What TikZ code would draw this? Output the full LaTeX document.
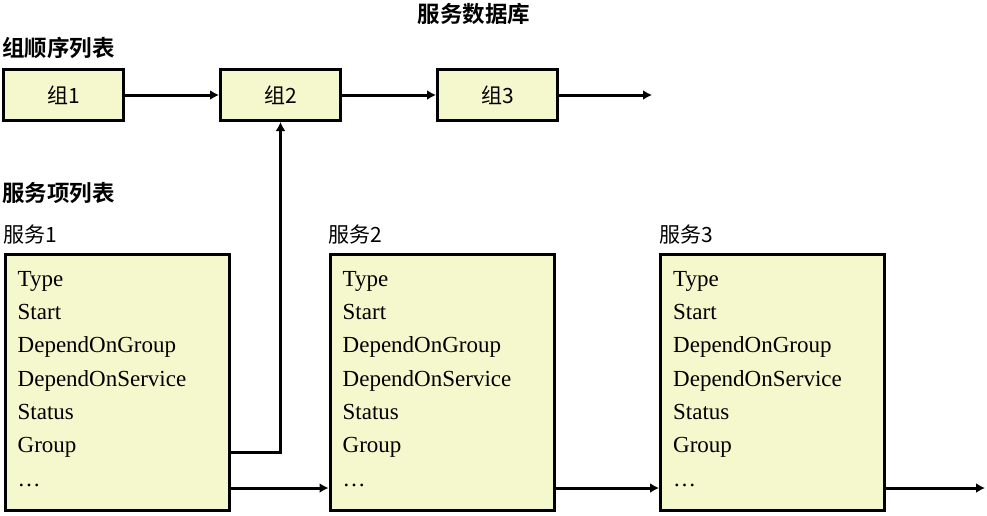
\documentclass[tikz,border=0pt]{standalone}
\usepackage{fontspec}
\setmainfont{Liberation Serif}
\newfontfamily\cjk[BoldFont={Noto Sans CJK SC Bold}]{Noto Sans CJK SC}
\usetikzlibrary{arrows.meta}
\definecolor{boxfill}{RGB}{245,247,204}
\begin{document}
\begin{tikzpicture}[x=1pt,y=-1pt,
  grpbox/.style={draw=black,line width=3pt,fill=boxfill,minimum width=120pt,minimum height=51pt,inner sep=0pt,font=\fontsize{21}{24}\selectfont\cjk},
  svcbox/.style={draw=black,line width=3pt,fill=boxfill,minimum width=224pt,minimum height=256pt,inner sep=0pt},
  field/.style={anchor=base west,inner sep=0pt,font=\fontsize{23}{26}\selectfont},
  title/.style={inner sep=0pt,font=\fontsize{22.5}{26}\selectfont\cjk\bfseries},
  svclabel/.style={anchor=west,inner sep=0pt,font=\fontsize{21}{24}\selectfont\cjk},
  arr/.style={line width=3pt,-{Latex[length=9pt,width=10pt]}}]
\useasboundingbox (0,0) rectangle (987,515);

% titles
\node[title] (t0) at (474,14) {服务数据库};
\node[title,anchor=west] (t1) at (2,48) {组顺序列表};
\node[title,anchor=west] (t2) at (2,193) {服务项列表};

% group boxes
\node[grpbox] (g1) at (63.5,95) {组1};
\node[grpbox] (g2) at (280.5,95) {组2};
\node[grpbox] (g3) at (497.5,95) {组3};
\coordinate (gend) at (652,95);
\draw[arr] (g1) -- (g2);
\draw[arr] (g2) -- (g3);
\draw[arr] (g3) -- (gend);

% service boxes
\foreach \i/\cx/\lx in {1/117/3, 2/442/328, 3/772.5/659} {
  \node[svclabel] (l\i) at (\lx,235) {服务\i};
  \node[svcbox] (s\i) at (\cx,382.5) {};
  \node[field] (s\i-type)  at ([xshift=14pt]s\i.west |- 0,286)   {Type};
  \node[field] (s\i-start) at ([xshift=14pt]s\i.west |- 0,319.3) {Start};
  \node[field] (s\i-dog)   at ([xshift=14pt]s\i.west |- 0,352.6) {DependOnGroup};
  \node[field] (s\i-dos)   at ([xshift=14pt]s\i.west |- 0,386)   {DependOnService};
  \node[field] (s\i-stat)  at ([xshift=14pt]s\i.west |- 0,419.3) {Status};
  \node[field] (s\i-grp)   at ([xshift=14pt]s\i.west |- 0,452.6) {Group};
  \node[field] (s\i-dots)  at ([xshift=14pt]s\i.west |- 0,486)   {\dots};
}
\coordinate (send) at (985,488);

\draw[arr] (s1.east |- 0,452.6) -| (g2.south);
\draw[arr] (s1.east |- 0,488) -- (s2.west |- 0,488);
\draw[arr] (s2.east |- 0,488) -- (s3.west |- 0,488);
\draw[arr] (s3.east |- 0,488) -- (send);
\end{tikzpicture}
\end{document}
